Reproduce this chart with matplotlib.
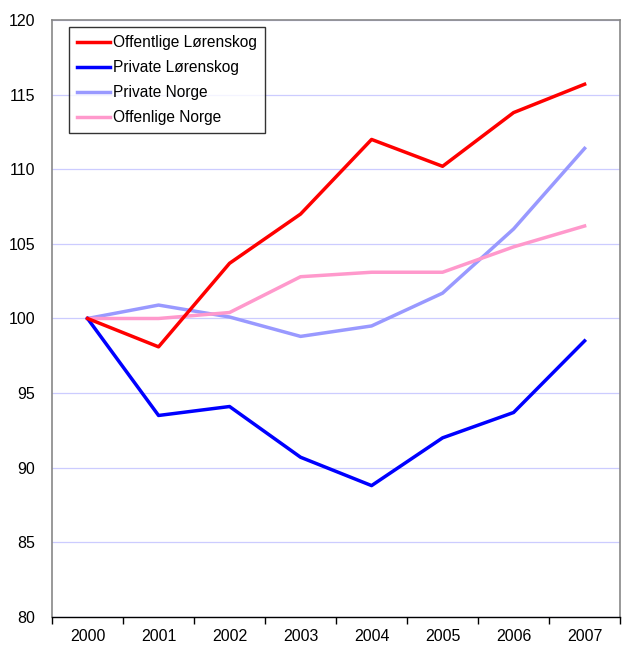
import matplotlib
matplotlib.use("Agg")
import matplotlib.pyplot as plt

plt.rcParams['font.family'] = ['Liberation Sans', 'DejaVu Sans']

years = ["2000", "2001", "2002", "2003", "2004", "2005", "2006", "2007"]
offentlige_lorenskog = [100, 98.1, 103.7, 107.0, 112.0, 110.2, 113.8, 115.7]
private_lorenskog = [100, 93.5, 94.1, 90.7, 88.8, 92.0, 93.7, 98.5]
private_norge = [100, 100.9, 100.1, 98.8, 99.5, 101.7, 106.0, 111.4]
offenlige_norge = [100, 100.0, 100.4, 102.8, 103.1, 103.1, 104.8, 106.2]
yticks = [80, 85, 90, 95, 100, 105, 110, 115, 120]

fig = plt.figure(figsize=(6.27, 6.48), dpi=100)
ax = fig.add_axes([0.083, 0.048, 0.906, 0.921])

x = list(range(len(years)))
ax.plot(x, offentlige_lorenskog, color='#ff0000', lw=2.5, label='Offentlige Lørenskog', zorder=5)
ax.plot(x, private_lorenskog, color='#0000ff', lw=2.5, label='Private Lørenskog', zorder=4)
ax.plot(x, private_norge, color='#9999ff', lw=2.5, label='Private Norge', zorder=3)
ax.plot(x, offenlige_norge, color='#ff99cc', lw=2.5, label='Offenlige Norge', zorder=3)

ax.set_xlim(-0.5, len(years) - 0.5)
ax.set_ylim(80, 120)
ax.set_yticks(yticks)
ax.set_yticklabels([str(v) for v in yticks], fontsize=11.5)
ax.tick_params(axis='y', length=0, pad=12)
ax.set_xticks(x)
ax.set_xticklabels(years, fontsize=11.5)
ax.set_xticks([i + 0.5 for i in range(-1, len(years))], minor=True)
ax.tick_params(axis='x', which='major', length=0, pad=9)
ax.tick_params(axis='x', which='minor', length=5, width=1, color='black', direction='out')

ax.grid(axis='y', color='#ccccff', lw=0.9)
ax.set_axisbelow(True)
for s in ['left', 'right', 'top']:
    ax.spines[s].set_color('#888888')
    ax.spines[s].set_linewidth(1.2)
ax.spines['bottom'].set_color('black')
ax.spines['bottom'].set_linewidth(1.0)

leg = ax.legend(loc='upper left', bbox_to_anchor=(0.03, 0.988), fontsize=11.2,
                frameon=True, fancybox=False, handlelength=2.1, handletextpad=0.25,
                borderpad=0.5, labelspacing=0.65, borderaxespad=0)
leg.get_frame().set_edgecolor('black')
leg.get_frame().set_linewidth(1.0)

fig.savefig('out.png', dpi=100)
